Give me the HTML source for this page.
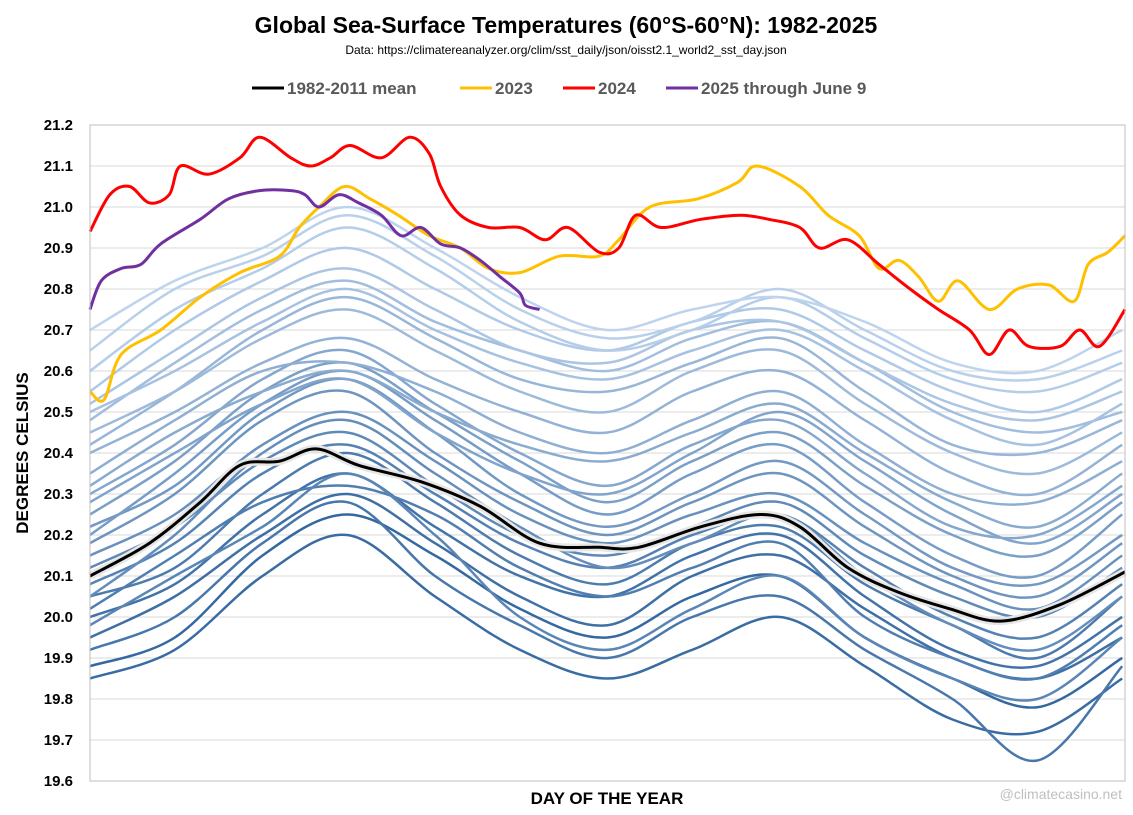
<!DOCTYPE html>
<html><head><meta charset="utf-8">
<style>
body{margin:0;background:#fff;}
svg{display:block;font-family:"Liberation Sans",sans-serif;}
</style></head>
<body>
<svg id="chart" width="1133" height="815" viewBox="0 0 1133 815" xmlns="http://www.w3.org/2000/svg">
<rect x="0" y="0" width="1133" height="815" fill="#fff"/>
<text x="566" y="33" text-anchor="middle" font-size="23" font-weight="bold" fill="#000">Global Sea-Surface Temperatures (60°S-60°N): 1982-2025</text>
<text x="566" y="54" text-anchor="middle" font-size="12" fill="#000">Data: https://climatereanalyzer.org/clim/sst_daily/json/oisst2.1_world2_sst_day.json</text>
<g font-size="17" font-weight="bold" fill="#595959">
<g><line x1="252" y1="88" x2="284" y2="88" stroke="#000" stroke-width="3"/><text x="287" y="94">1982-2011 mean</text></g>
<g><line x1="460" y1="88" x2="492" y2="88" stroke="#ffc000" stroke-width="3"/><text x="495" y="94">2023</text></g>
<g><line x1="563" y1="88" x2="595" y2="88" stroke="#ff0000" stroke-width="3"/><text x="598" y="94">2024</text></g>
<g><line x1="666" y1="88" x2="698" y2="88" stroke="#7030a0" stroke-width="3"/><text x="701" y="94">2025 through June 9</text></g>
</g>
<g id="grid"></g>
<g id="yticks" font-size="15" font-weight="bold" fill="#000"></g>
<g id="bg"></g>
<g id="main"></g>
<rect x="90" y="125" width="1035" height="656" fill="none" stroke="#bfbfbf" stroke-width="1"/>
<text transform="translate(28,453) rotate(-90)" text-anchor="middle" font-size="17" font-weight="bold" fill="#000">DEGREES CELSIUS</text>
<text x="607" y="804" text-anchor="middle" font-size="17" font-weight="bold" fill="#000">DAY OF THE YEAR</text>
<text x="1122" y="799" text-anchor="end" font-size="14" fill="#bfbfbf">@climatecasino.net</text>
</svg>
<script>
const yTicks=[19.6,19.7,19.8,19.9,20.0,20.1,20.2,20.3,20.4,20.5,20.6,20.7,20.8,20.9,21.0,21.1,21.2];
const bgDays=[0,30,61,91,122,152,183,213,244,274,305,335,365];
const bgYears=[
[19.88,19.95,20.15,20.25,20.15,20.02,19.95,20.05,20.10,19.95,19.85,19.78,19.90],
[19.85,19.92,20.10,20.20,20.05,19.92,19.85,19.92,20.00,19.88,19.75,19.72,19.85],
[19.95,20.05,20.20,20.30,20.18,20.05,19.98,20.10,20.15,20.02,19.90,19.85,19.95],
[20.00,20.08,20.25,20.35,20.22,20.10,20.05,20.15,20.20,20.05,19.92,19.88,20.00],
[19.92,20.00,20.18,20.28,20.10,19.98,19.90,20.00,20.05,19.92,19.80,19.65,19.88],
[20.05,20.12,20.30,20.40,20.28,20.15,20.08,20.18,20.22,20.08,19.98,19.90,20.05],
[20.02,20.15,20.28,20.32,20.25,20.12,20.05,20.12,20.18,20.00,19.90,19.85,19.98],
[20.08,20.18,20.35,20.42,20.30,20.18,20.12,20.20,20.25,20.12,20.00,19.95,20.08],
[19.98,20.10,20.22,20.35,20.20,20.00,19.92,20.02,20.10,19.95,19.85,19.80,19.95],
[20.12,20.22,20.38,20.45,20.32,20.20,20.15,20.22,20.28,20.15,20.05,20.00,20.12],
[20.05,20.20,20.40,20.48,20.35,20.22,20.12,20.18,20.25,20.10,19.98,19.92,20.05],
[20.15,20.25,20.42,20.50,20.38,20.25,20.18,20.25,20.30,20.18,20.08,20.02,20.15],
[20.18,20.30,20.48,20.55,20.40,20.28,20.20,20.28,20.35,20.22,20.10,20.05,20.18],
[20.22,20.32,20.50,20.58,20.45,20.30,20.22,20.30,20.38,20.25,20.12,20.08,20.20],
[20.20,20.35,20.52,20.60,20.48,20.35,20.25,20.35,20.42,20.28,20.15,20.10,20.25],
[20.25,20.38,20.55,20.62,20.50,20.38,20.28,20.38,20.45,20.32,20.20,20.15,20.28],
[20.28,20.40,20.52,20.58,20.45,20.35,20.30,20.40,20.50,20.38,20.25,20.18,20.30],
[20.30,20.42,20.58,20.65,20.52,20.40,20.32,20.42,20.48,20.35,20.22,20.20,20.32],
[20.32,20.45,20.55,20.60,20.50,20.42,20.38,20.45,20.52,20.40,20.28,20.22,20.35],
[20.35,20.48,20.60,20.62,20.55,20.45,20.40,20.48,20.55,20.42,20.30,20.28,20.38],
[20.40,20.50,20.62,20.68,20.58,20.50,20.45,20.55,20.60,20.48,20.35,20.30,20.42],
[20.42,20.55,20.70,20.78,20.68,20.58,20.55,20.62,20.68,20.55,20.42,20.40,20.48],
[20.45,20.55,20.68,20.75,20.65,20.55,20.50,20.60,20.65,20.52,20.40,20.35,20.45],
[20.48,20.62,20.75,20.82,20.72,20.65,20.60,20.68,20.72,20.62,20.50,20.45,20.50],
[20.50,20.60,20.72,20.80,20.70,20.62,20.58,20.65,20.70,20.60,20.48,20.42,20.52],
[20.52,20.65,20.78,20.85,20.75,20.65,20.62,20.70,20.72,20.62,20.52,20.48,20.55],
[20.55,20.70,20.82,20.90,20.80,20.70,20.65,20.72,20.75,20.65,20.55,20.50,20.58],
[20.60,20.75,20.85,20.95,20.85,20.72,20.65,20.70,20.78,20.68,20.58,20.55,20.62],
[20.65,20.80,20.88,20.98,20.88,20.75,20.68,20.72,20.80,20.70,20.60,20.58,20.65],
[20.70,20.82,20.90,21.00,20.90,20.78,20.70,20.75,20.78,20.72,20.62,20.60,20.70]
];
const meanDays=[0,21,39,53,67,80,95,117,138,159,180,194,216,237,251,268,286,304,322,343,366];
const meanVals=[20.10,20.18,20.28,20.37,20.38,20.41,20.37,20.33,20.27,20.18,20.17,20.17,20.22,20.25,20.22,20.12,20.06,20.02,19.99,20.03,20.11];
const y2023Days=[0,5,11,25,39,53,67,74,81,90,99,109,120,131,141,152,166,180,187,198,215,229,236,251,261,272,279,286,293,300,307,318,328,339,348,353,360,366];
const y2023Vals=[20.55,20.53,20.64,20.70,20.78,20.84,20.88,20.95,21.00,21.05,21.02,20.98,20.93,20.90,20.85,20.84,20.88,20.88,20.92,21.00,21.02,21.06,21.10,21.05,20.98,20.93,20.85,20.87,20.83,20.77,20.82,20.75,20.80,20.81,20.77,20.86,20.89,20.93];
const y2024Days=[0,7,14,21,28,32,42,53,60,71,78,85,92,103,113,120,124,131,141,152,161,169,180,187,193,202,216,230,240,251,258,268,279,290,300,311,318,325,332,343,350,357,366];
const y2024Vals=[20.94,21.03,21.05,21.01,21.03,21.10,21.08,21.12,21.17,21.12,21.10,21.12,21.15,21.12,21.17,21.13,21.05,20.98,20.95,20.95,20.92,20.95,20.89,20.90,20.98,20.95,20.97,20.98,20.97,20.95,20.90,20.92,20.86,20.80,20.75,20.70,20.64,20.70,20.66,20.66,20.70,20.66,20.75];
const y2025Days=[0,4,11,18,25,39,49,60,71,76,81,88,95,103,110,117,124,131,138,145,152,154,159];
const y2025Vals=[20.75,20.82,20.85,20.86,20.91,20.97,21.02,21.04,21.04,21.03,21.00,21.03,21.01,20.98,20.93,20.95,20.91,20.90,20.87,20.83,20.79,20.76,20.75];

const NS="http://www.w3.org/2000/svg";
const X0=90,X1=1125,Y0=781,Y1=125,VMIN=19.6,VMAX=21.2;
function xScale(d){return X0+d/366*(X1-X0);}
function yScale(v){return Y0-(v-VMIN)/(VMAX-VMIN)*(Y0-Y1);}
function pathFor(days,vals){
  const p=days.map((d,i)=>[xScale(d),yScale(vals[i])]);
  let s="M"+p[0][0].toFixed(1)+","+p[0][1].toFixed(1);
  for(let i=0;i<p.length-1;i++){
    const a=p[i-1]||p[i],b=p[i],c=p[i+1],e=p[i+2]||c;
    const c1=[b[0]+(c[0]-a[0])/6,b[1]+(c[1]-a[1])/6],c2=[c[0]-(e[0]-b[0])/6,c[1]-(e[1]-b[1])/6];
    s+="C"+c1[0].toFixed(1)+","+c1[1].toFixed(1)+" "+c2[0].toFixed(1)+","+c2[1].toFixed(1)+" "+c[0].toFixed(1)+","+c[1].toFixed(1);
  }
  return s;
}
const grid=document.getElementById('grid'),yt=document.getElementById('yticks');
yTicks.forEach(v=>{
  const l=document.createElementNS(NS,'line');
  
  
  l.setAttribute('x1',X0);l.setAttribute('x2',X1);l.setAttribute('y1',yScale(v));l.setAttribute('y2',yScale(v));
  l.setAttribute('stroke','#d9d9d9');l.setAttribute('stroke-width','1');
  grid.appendChild(l);
  const t=document.createElementNS(NS,'text');
  
  
  t.setAttribute('x',73);t.setAttribute('y',yScale(v)+5);t.setAttribute('text-anchor','end');
  t.textContent=v.toFixed(1);
  yt.appendChild(t);
});
const bg=document.getElementById('bg');
const n=bgYears.length;
bgYears.forEach((vals,i)=>{
  const f=i/(n-1);
  const r=Math.round(52+f*(190-52)),g=Math.round(104+f*(212-104)),b=Math.round(160+f*(238-160));
  const p=document.createElementNS(NS,'path');
  
  
  p.setAttribute('d',pathFor(bgDays,vals));
  p.setAttribute('fill','none');p.setAttribute('stroke',`rgb(${r},${g},${b})`);p.setAttribute('stroke-width','2.5');
  bg.appendChild(p);
});
const main=document.getElementById('main');
const halo=document.createElementNS(NS,'path');


halo.setAttribute('d',pathFor(meanDays,meanVals));
halo.setAttribute('fill','none');halo.setAttribute('stroke','#e6e6e6');halo.setAttribute('stroke-width','8');
main.appendChild(halo);
[[meanDays,meanVals,'#000','mean-line'],[y2023Days,y2023Vals,'#ffc000','line-2023'],[y2024Days,y2024Vals,'#ff0000','line-2024'],[y2025Days,y2025Vals,'#7030a0','line-2025']].forEach(s=>{
  const p=document.createElementNS(NS,'path');
  
  
  p.setAttribute('d',pathFor(s[0],s[1]));
  p.setAttribute('fill','none');p.setAttribute('stroke',s[2]);p.setAttribute('stroke-width','3');
  main.appendChild(p);
});
</script>
</body></html>
